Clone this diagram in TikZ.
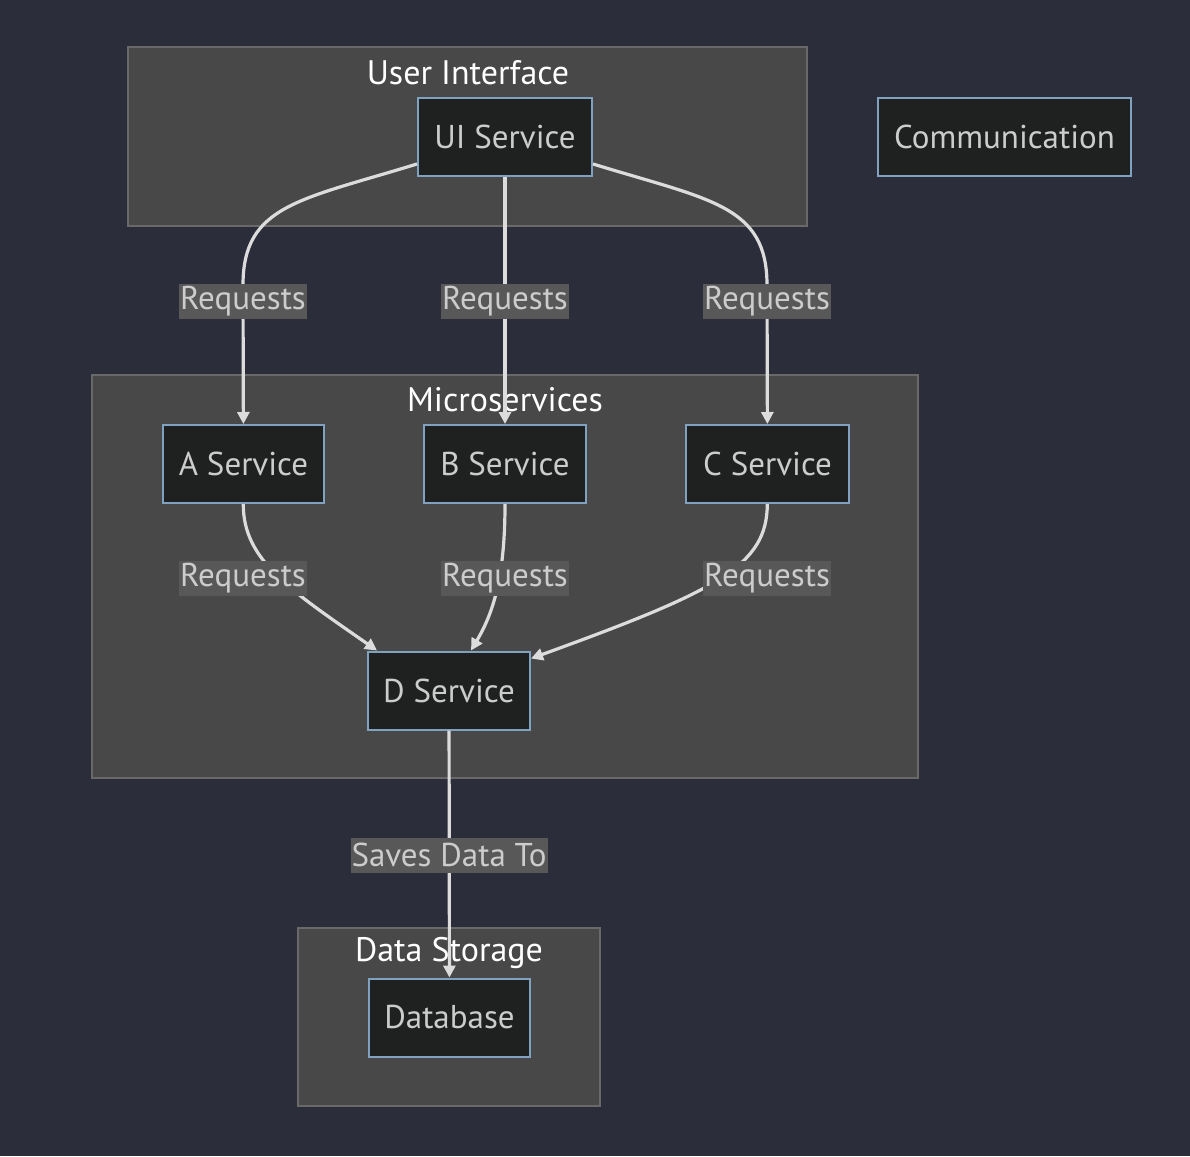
\documentclass[tikz,border=0pt]{standalone}
\usepackage{fontspec}
\setmainfont{PT Sans}
\usetikzlibrary{arrows.meta}
\definecolor{bgc}{RGB}{43,46,58}
\definecolor{clfill}{RGB}{72,72,72}
\definecolor{cldraw}{RGB}{105,105,105}
\definecolor{ndfill}{RGB}{31,32,32}
\definecolor{nddraw}{RGB}{129,161,193}
\definecolor{txt}{RGB}{204,204,204}
\definecolor{lblbg}{RGB}{88,88,88}
\definecolor{edgec}{RGB}{220,220,220}
\tikzset{
  cluster/.style={fill=clfill,draw=cldraw,line width=2pt},
  cltitle/.style={text=white,font=\fontsize{34}{40}\selectfont,inner sep=0pt},
  svc/.style={fill=ndfill,draw=nddraw,line width=2pt,text=txt,font=\fontsize{33}{38}\selectfont,minimum height=78pt,inner xsep=0pt},
  lbl/.style={fill=lblbg,text=txt,font=\fontsize{33}{38}\selectfont,inner xsep=1pt,inner ysep=0pt,minimum height=35pt},
  conn/.style={draw=edgec,line width=3.2pt,-{Triangle[length=12pt,width=12pt]}},
}
\begin{document}
\begin{tikzpicture}[x=1pt,y=-1pt]
\fill[bgc] (0,0) rectangle (1190,1156);
\useasboundingbox (0,0) rectangle (1190,1156);
% clusters
\draw[cluster] (128,47) rectangle (807,226);
\draw[cluster] (92,375) rectangle (918,778);
\draw[cluster] (298,928) rectangle (600,1106);
\node[cltitle] (tUI) at (468,73) {User Interface};
\node[cltitle] (tMS) at (505,400) {Microservices};
\node[cltitle] (tDS) at (449,953) {Data Storage};
% nodes
\node[svc,minimum width=174pt] (ui) at (505,137) {UI Service};
\node[svc,minimum width=253pt] (comm) at (1004.5,137) {Communication};
\node[svc,minimum width=161pt] (a) at (243.5,464) {A Service};
\node[svc,minimum width=162pt] (b) at (505,464) {B Service};
\node[svc,minimum width=163pt] (c) at (767.5,464) {C Service};
\node[svc,minimum width=162pt] (d) at (449,690.5) {D Service};
\node[svc,minimum width=161pt] (db) at (449.5,1017.5) {Database};
% edges
\draw[conn] (ui) .. controls (300,200) and (243,205) .. (243,285) -- (a);
\draw[conn] (ui) -- (b);
\draw[conn] (ui) .. controls (710,200) and (767,205) .. (767,285) -- (c);
\draw[conn] (a) .. controls (243,560) and (290,590) .. ([xshift=10pt]d.north west);
\draw[conn] (b) .. controls (505,580) and (492,615) .. ([xshift=22pt]d.north);
\draw[conn] (c) .. controls (767,565) and (720,590) .. ([yshift=-8pt]d.north east);
\draw[conn] (d) -- (db);
% labels
\node[lbl] (l1) at (243,301) {Requests};
\node[lbl] (l2) at (505,301) {Requests};
\node[lbl] (l3) at (767,301) {Requests};
\node[lbl] (l4) at (243,578) {Requests};
\node[lbl] (l5) at (505,578) {Requests};
\node[lbl] (l6) at (767,578) {Requests};
\node[lbl] (l7) at (449,855) {Saves Data To};
\end{tikzpicture}
\end{document}
